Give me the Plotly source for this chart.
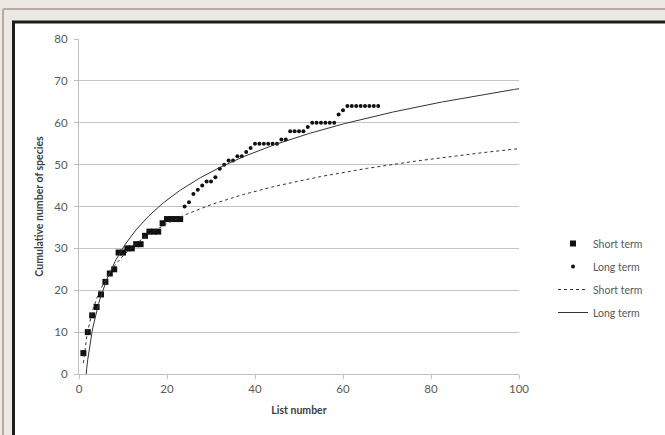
import numpy as np
import plotly.graph_objects as go

# ---- data ----
short_lists = list(range(1, 24))
short_species = [5, 10, 14, 16, 19, 22, 24, 25, 29, 29, 30, 30, 31, 31, 33, 34,
                 34, 34, 36, 37, 37, 37, 37]

long_lists = list(range(1, 69))
long_species = short_species + [40, 41, 43, 44, 45, 46, 46, 47, 49, 50, 51, 51,
                                52, 52, 53, 54, 55, 55, 55, 55, 55, 55, 56, 56,
                                58, 58, 58, 58, 59, 60, 60, 60, 60, 60, 60, 62,
                                63, 64, 64, 64, 64, 64, 64, 64, 64]

x_ticks = [0, 20, 40, 60, 80, 100]
y_ticks = [0, 10, 20, 30, 40, 50, 60, 70, 80]

# logarithmic trendlines (least squares on ln x), as in the spreadsheet
a_s, b_s = np.polyfit(np.log(short_lists), short_species, 1)
a_l, b_l = np.polyfit(np.log(long_lists), long_species, 1)
xt = np.linspace(1, 100, 400)

FONT = "Lato, 'Liberation Sans', sans-serif"
TXT = "#595959"

fig = go.Figure()
fig.add_trace(go.Scatter(x=short_lists, y=short_species, mode="markers",
                         name="Short term", legendgroup="a",
                         marker=dict(symbol="square", size=6, color="#111111")))
fig.add_trace(go.Scatter(x=long_lists, y=long_species, mode="markers",
                         name="Long term", legendgroup="b",
                         marker=dict(symbol="circle", size=4, color="#111111")))
fig.add_trace(go.Scatter(x=xt, y=a_s * np.log(xt) + b_s, mode="lines",
                         name="Short term", legendgroup="c",
                         line=dict(color="#333333", width=1, dash="dot")))
fig.add_trace(go.Scatter(x=xt, y=a_l * np.log(xt) + b_l, mode="lines",
                         name="Long term", legendgroup="d",
                         line=dict(color="#333333", width=1)))

W, H = 665, 435
L, R, T, B = 79, 519, 39, 374


def px(X):
    return (X - L) / (R - L)


def py(Y):
    return (B - Y) / (B - T)


shapes = [
    dict(type="rect", xref="paper", yref="paper", x0=px(0), x1=px(W), y0=py(21), y1=py(0),
         fillcolor="#ece9e5", line=dict(width=0), layer="below"),
    dict(type="rect", xref="paper", yref="paper", x0=px(0), x1=px(12), y0=py(H), y1=py(0),
         fillcolor="#ece9e5", line=dict(width=0), layer="below"),
    dict(type="line", xref="paper", yref="paper", x0=px(3), x1=px(W), y0=py(9), y1=py(9),
         line=dict(color="#b9aca3", width=2)),
    dict(type="line", xref="paper", yref="paper", x0=px(3), x1=px(3), y0=py(9), y1=py(H),
         line=dict(color="#b9aca3", width=2)),
    dict(type="line", xref="paper", yref="paper", x0=px(12), x1=px(W), y0=py(22), y1=py(22),
         line=dict(color="#1e1e1e", width=3)),
    dict(type="line", xref="paper", yref="paper", x0=px(13.5), x1=px(13.5), y0=py(21), y1=py(H),
         line=dict(color="#1e1e1e", width=3)),
]

fig.update_layout(
    width=W, height=H,
    margin=dict(l=L, r=W - R, t=T, b=H - B),
    paper_bgcolor="white", plot_bgcolor="white",
    font=dict(family=FONT, size=11.5, color=TXT),
    shapes=shapes,
    showlegend=True,
    legend=dict(x=px(553), y=py(278), xanchor="left", yanchor="middle",
                font=dict(family=FONT, size=10.5, color=TXT),
                bgcolor="rgba(0,0,0,0)", tracegroupgap=4, itemwidth=30),
    xaxis=dict(range=[0, 100], tickvals=x_ticks, ticks="outside", ticklen=4,
               tickcolor="#bfbfbf", showline=True, linecolor="#bfbfbf", linewidth=1,
               showgrid=False, zeroline=False,
               title=dict(text="<b>List number</b>", standoff=12,
                          font=dict(family=FONT, size=10.5, color="#404040"))),
    yaxis=dict(range=[0, 80], tickvals=y_ticks, ticks="outside", ticklen=4,
               tickcolor="#bfbfbf", showline=True, linecolor="#bfbfbf", linewidth=1,
               showgrid=True, gridcolor="#c4c4c4", gridwidth=1, zeroline=False,
               ticklabelstandoff=4,
               title=dict(text="<b>Cumulative number of species</b>", standoff=8,
                          font=dict(family=FONT, size=10.5, color="#404040"))),
)

fig.write_html("out.html", config={"displayModeBar": False},
               post_script="document.body.style.margin='0';document.body.style.overflow='hidden';")
